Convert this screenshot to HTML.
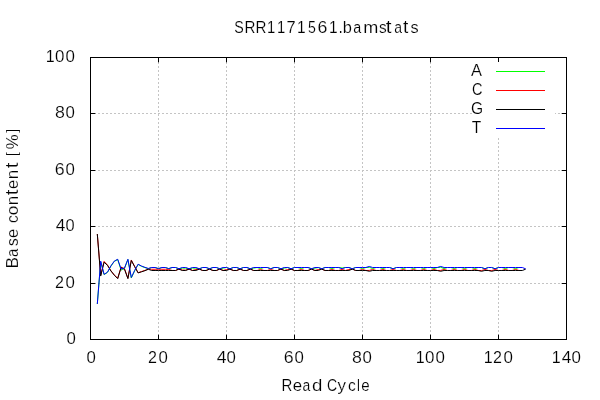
<!DOCTYPE html>
<html><head><meta charset="utf-8"><title>SRR1171561.bamstats</title>
<style>
html,body{margin:0;padding:0;background:#fff;}
body{width:600px;height:400px;overflow:hidden;font-family:"Liberation Sans",sans-serif;}
svg{display:block;}
</style></head><body>
<svg width="600" height="400" viewBox="0 0 600 400">
<rect width="600" height="400" fill="#fff"/>
<g stroke="#c4c4c4" stroke-width="1" stroke-dasharray="2 2" fill="none" shape-rendering="crispEdges">
<line x1="158.5" y1="340" x2="158.5" y2="58"/>
<line x1="226.5" y1="340" x2="226.5" y2="58"/>
<line x1="294.5" y1="340" x2="294.5" y2="58"/>
<line x1="362.5" y1="340" x2="362.5" y2="58"/>
<line x1="430.5" y1="340" x2="430.5" y2="58"/>
<line x1="498.5" y1="340" x2="498.5" y2="58"/>
<line x1="90" y1="283.5" x2="566" y2="283.5"/>
<line x1="90" y1="226.5" x2="566" y2="226.5"/>
<line x1="90" y1="170.5" x2="566" y2="170.5"/>
<line x1="90" y1="113.5" x2="566" y2="113.5"/>
</g>
<g stroke="#000" stroke-width="1" fill="none">
<line x1="90.5" y1="339" x2="90.5" y2="334.7"/>
<line x1="90.5" y1="58" x2="90.5" y2="62.3"/>
<line x1="158.5" y1="339" x2="158.5" y2="334.7"/>
<line x1="158.5" y1="58" x2="158.5" y2="62.3"/>
<line x1="226.5" y1="339" x2="226.5" y2="334.7"/>
<line x1="226.5" y1="58" x2="226.5" y2="62.3"/>
<line x1="294.5" y1="339" x2="294.5" y2="334.7"/>
<line x1="294.5" y1="58" x2="294.5" y2="62.3"/>
<line x1="362.5" y1="339" x2="362.5" y2="334.7"/>
<line x1="362.5" y1="58" x2="362.5" y2="62.3"/>
<line x1="430.5" y1="339" x2="430.5" y2="334.7"/>
<line x1="430.5" y1="58" x2="430.5" y2="62.3"/>
<line x1="498.5" y1="339" x2="498.5" y2="334.7"/>
<line x1="498.5" y1="58" x2="498.5" y2="62.3"/>
<line x1="566.5" y1="339" x2="566.5" y2="334.7"/>
<line x1="566.5" y1="58" x2="566.5" y2="62.3"/>
<line x1="91" y1="339.5" x2="95.3" y2="339.5"/>
<line x1="566" y1="339.5" x2="561.7" y2="339.5"/>
<line x1="91" y1="283.5" x2="95.3" y2="283.5"/>
<line x1="566" y1="283.5" x2="561.7" y2="283.5"/>
<line x1="91" y1="226.5" x2="95.3" y2="226.5"/>
<line x1="566" y1="226.5" x2="561.7" y2="226.5"/>
<line x1="91" y1="170.5" x2="95.3" y2="170.5"/>
<line x1="566" y1="170.5" x2="561.7" y2="170.5"/>
<line x1="91" y1="113.5" x2="95.3" y2="113.5"/>
<line x1="566" y1="113.5" x2="561.7" y2="113.5"/>
<line x1="91" y1="57.5" x2="95.3" y2="57.5"/>
<line x1="566" y1="57.5" x2="561.7" y2="57.5"/>
</g>
<rect x="472" y="62" width="83" height="75" fill="#fff"/>
<g fill="none" stroke-width="1" stroke-linejoin="round" stroke-linecap="butt">
<path d="M496,71.5 L545,71.5" stroke="#00ff00"/>
<path d="M97.30,303.97 L100.70,261.95 L104.10,274.64 L107.50,272.38 L110.90,266.18 L114.30,261.39 L117.70,259.55 L121.10,270.13 L124.50,268.30 L127.90,259.55 L131.30,278.02 L134.70,270.69 L138.10,264.49 L141.50,266.32 L144.90,267.59 L148.30,268.72 L151.70,267.51 L155.10,267.51 L158.50,268.72 L161.90,267.51 L165.30,267.51 L168.70,268.72 L172.10,267.51 L175.50,267.51 L178.90,268.83 L182.30,268.10 L185.70,268.10 L189.10,268.83 L192.50,268.10 L195.90,268.10 L199.30,268.83 L202.70,267.51 L206.10,267.51 L209.50,268.83 L212.90,267.51 L216.30,267.51 L219.70,268.83 L223.10,268.15 L226.50,267.51 L229.90,268.83 L233.30,267.51 L236.70,267.51 L240.10,268.83 L243.50,267.51 L246.90,267.51 L250.30,268.83 L253.70,268.15 L257.10,267.51 L260.50,268.55 L263.90,267.51 L267.30,267.51 L270.70,268.77 L274.10,267.51 L277.50,267.51 L280.90,268.83 L284.30,268.15 L287.70,267.51 L291.10,268.83 L294.50,267.51 L297.90,267.51 L301.30,268.55 L304.70,267.51 L308.10,267.51 L311.50,268.83 L314.90,268.15 L318.30,267.51 L321.70,268.83 L325.10,267.51 L328.50,267.51 L331.90,268.55 L335.30,267.51 L338.70,267.51 L342.10,268.01 L345.50,267.51 L348.90,267.51 L352.30,268.83 L355.70,267.51 M359.10,267.51 L362.50,268.55 L365.90,267.51 L369.30,267.31 L372.70,268.55 L376.10,267.51 M379.50,267.51 L382.90,268.55 L386.30,267.51 M389.70,267.51 L393.10,268.77 L396.50,267.51 M399.90,267.51 L403.30,268.55 L406.70,267.51 M410.10,267.51 L413.50,268.55 L416.90,267.51 M420.30,267.51 L423.70,268.55 L427.10,267.51 M430.50,267.51 L433.90,268.55 L437.30,267.51 L440.70,267.31 L444.10,268.55 L447.50,267.51 M450.90,267.51 L454.30,268.55 L457.70,267.51 M461.10,267.51 L464.50,268.55 L467.90,267.51 M471.30,267.51 L474.70,268.55 L478.10,267.51 M481.50,267.51 L484.90,268.77 L488.30,267.51 M491.70,267.51 L495.10,268.77 L498.50,267.51 M501.90,267.51 L505.30,268.55 L508.70,267.51 M512.10,267.51 L515.50,268.55 L518.90,267.51" stroke="#00ff00"/>
<path d="M496,90.5 L545,90.5" stroke="#ff0000"/>
<path d="M97.30,234.03 L100.70,274.92 L104.10,261.39 L107.50,265.05 L110.90,270.69 L114.30,274.92 L117.70,278.31 L121.10,267.03 L124.50,268.72 L127.90,278.31 L131.30,259.98 L134.70,266.46 L138.10,272.67 L141.50,271.54 L144.90,270.41 L148.30,269.00 L151.70,269.28 L155.10,269.28 L158.50,269.28 L161.90,269.28 L165.30,269.28 L168.70,269.45 L172.10,270.49 L175.50,270.49 L178.90,269.03 L182.30,270.07 L185.70,270.07 L189.10,269.03 L192.50,270.49 L195.90,269.56 L199.30,269.03 L202.70,270.49 L206.10,270.49 L209.50,269.03 L212.90,270.49 L216.30,270.49 L219.70,269.03 L223.10,270.49 L226.50,269.56 L229.90,269.03 L233.30,270.49 L236.70,270.49 L240.10,269.03 L243.50,270.49 L246.90,270.49 L250.30,269.03 L253.70,270.49 L257.10,270.49 L260.50,269.45 L263.90,270.49 L267.30,270.49 L270.70,269.45 L274.10,270.49 L277.50,270.49 L280.90,269.03 L284.30,270.49 L287.70,269.56 L291.10,269.03 L294.50,270.49 L297.90,270.49 L301.30,269.45 L304.70,270.49 L308.10,270.49 L311.50,269.03 L314.90,270.49 L318.30,269.56 L321.70,269.03 L325.10,270.49 L328.50,270.49 L331.90,269.45 L335.30,270.49 L338.70,270.49 L342.10,269.45 L345.50,270.49 L348.90,269.56 L352.30,269.03 L355.70,270.49 M359.10,270.49 L362.50,269.45 L365.90,270.49 L369.30,270.41 L372.70,269.45 L376.10,270.49 M379.50,270.49 L382.90,269.45 L386.30,270.49 M389.70,270.49 L393.10,269.45 L396.50,270.49 M399.90,270.49 L403.30,269.45 L406.70,270.49 M410.10,270.49 L413.50,269.45 L416.90,270.49 M420.30,270.49 L423.70,269.45 L427.10,270.49 M430.50,270.49 L433.90,269.45 L437.30,270.49 L440.70,270.41 L444.10,269.45 L447.50,270.49 M450.90,270.49 L454.30,269.45 L457.70,270.49 M461.10,270.49 L464.50,269.45 L467.90,270.49 M471.30,270.49 L474.70,269.45 L478.10,270.49 L481.50,270.55 L484.90,269.45 L488.30,270.49 L491.70,270.55 L495.10,269.45 L498.50,270.49 M501.90,270.49 L505.30,269.45 L508.70,270.49 M512.10,270.49 L515.50,269.45 L518.90,270.49" stroke="#ff0000"/>
<path d="M496,109.5 L545,109.5" stroke="#000000"/>
<path d="M97.30,234.03 L100.70,276.05 L104.10,262.23 L107.50,265.33 L110.90,270.97 L114.30,275.20 L117.70,278.59 L121.10,267.59 L124.50,269.28 L127.90,278.59 L131.30,260.54 L134.70,266.74 L138.10,272.95 L141.50,271.82 L144.90,270.69 L148.30,269.28 L151.70,270.49 L155.10,270.49 L158.50,270.49 L161.90,270.49 L165.30,270.49 L168.70,270.49 L172.10,270.49 L175.50,270.49 L178.90,269.14 L182.30,270.49 L185.70,270.49 L189.10,269.14 L192.50,270.49 L195.90,270.49 L199.30,269.14 L202.70,270.49 L206.10,270.49 L209.50,269.14 L212.90,270.49 L216.30,270.49 L219.70,269.14 L223.10,270.49 L226.50,270.49 L229.90,269.14 L233.30,270.49 L236.70,270.49 L240.10,269.14 L243.50,270.49 L246.90,270.49 L250.30,269.14 L253.70,270.49 L257.10,270.49 L260.50,270.49 L263.90,270.49 L267.30,270.49 L270.70,270.49 L274.10,270.49 L277.50,270.49 L280.90,269.14 L284.30,270.49 L287.70,270.49 L291.10,269.14 L294.50,270.49 L297.90,270.49 L301.30,270.49 L304.70,270.49 L308.10,270.49 L311.50,269.14 L314.90,270.49 L318.30,270.49 L321.70,269.14 L325.10,270.49 L328.50,270.49 L331.90,270.49 L335.30,270.49 L338.70,270.49 L342.10,270.49 L345.50,270.49 L348.90,270.49 L352.30,269.14 L355.70,270.49 L359.10,270.49 L362.50,270.49 L365.90,270.49 L369.30,271.26 L372.70,270.49 L376.10,270.49 L379.50,270.49 L382.90,270.49 L386.30,270.49 L389.70,270.49 L393.10,270.49 L396.50,270.49 L399.90,270.49 L403.30,270.49 L406.70,270.49 L410.10,270.49 L413.50,270.49 L416.90,270.49 L420.30,270.49 L423.70,270.49 L427.10,270.49 L430.50,270.49 L433.90,270.49 L437.30,270.49 L440.70,271.26 L444.10,270.49 L447.50,270.49 L450.90,270.49 L454.30,270.49 L457.70,270.49 L461.10,270.49 L464.50,270.49 L467.90,270.49 L471.30,270.49 L474.70,270.49 L478.10,270.49 L481.50,271.26 L484.90,270.49 L488.30,270.49 L491.70,271.26 L495.10,270.49 L498.50,270.49 L501.90,270.49 L505.30,270.49 L508.70,270.49 L512.10,270.49 L515.50,270.49 L518.90,270.49 L522.30,270.49 L525.70,269.14" stroke="#000000"/>
<path d="M496,128.5 L545,128.5" stroke="#0000ff"/>
<path d="M97.30,303.97 L100.70,261.10 L104.10,274.36 L107.50,272.10 L110.90,265.90 L114.30,261.10 L117.70,259.27 L121.10,269.00 L124.50,268.01 L127.90,259.27 L131.30,277.46 L134.70,270.41 L138.10,264.21 L141.50,266.04 L144.90,267.31 L148.30,268.44 L151.70,267.51 L155.10,267.51 L158.50,268.58 L161.90,267.51 L165.30,267.51 L168.70,268.58 L172.10,267.51 L175.50,267.51 L178.90,268.72 L182.30,267.51 L185.70,267.51 L189.10,268.72 L192.50,267.51 L195.90,267.51 L199.30,268.72 L202.70,267.51 L206.10,267.51 L209.50,268.72 L212.90,267.51 L216.30,267.51 L219.70,268.72 L223.10,267.51 L226.50,267.51 L229.90,268.72 L233.30,267.51 L236.70,267.51 L240.10,268.72 L243.50,267.51 L246.90,267.51 L250.30,268.72 L253.70,267.51 L257.10,267.51 L260.50,267.51 L263.90,267.51 L267.30,267.51 L270.70,268.72 L274.10,267.51 L277.50,267.51 L280.90,268.72 L284.30,267.51 L287.70,267.51 L291.10,268.72 L294.50,267.51 L297.90,267.51 L301.30,267.51 L304.70,267.51 L308.10,267.51 L311.50,268.72 L314.90,267.51 L318.30,267.51 L321.70,268.72 L325.10,267.51 L328.50,267.51 L331.90,267.51 L335.30,267.51 L338.70,267.51 L342.10,268.72 L345.50,267.51 L348.90,267.51 L352.30,268.72 L355.70,267.51 L359.10,267.51 L362.50,267.51 L365.90,267.51 L369.30,266.46 L372.70,267.51 L376.10,267.51 L379.50,267.51 L382.90,267.51 L386.30,267.51 L389.70,267.51 L393.10,268.72 L396.50,267.51 L399.90,267.51 L403.30,267.51 L406.70,267.51 L410.10,267.51 L413.50,267.51 L416.90,267.51 L420.30,267.51 L423.70,267.51 L427.10,267.51 L430.50,267.51 L433.90,267.51 L437.30,267.51 L440.70,266.46 L444.10,267.51 L447.50,267.51 L450.90,267.51 L454.30,267.51 L457.70,267.51 L461.10,267.51 L464.50,267.51 L467.90,267.51 L471.30,267.51 L474.70,267.51 L478.10,267.51 L481.50,267.51 L484.90,268.72 L488.30,267.51 L491.70,267.51 L495.10,268.72 L498.50,267.51 L501.90,267.51 L505.30,267.51 L508.70,267.51 L512.10,267.51 L515.50,267.51 L518.90,267.51 L522.30,267.51 L525.70,268.86" stroke="#0000ff"/>
</g>
<rect x="90.5" y="57.5" width="476" height="282" fill="none" stroke="#000" stroke-width="1" shape-rendering="crispEdges"/>
<g font-family="'Liberation Sans', sans-serif" font-size="16.2" fill="#000" stroke="#fff" stroke-width="0.16" paint-order="fill stroke" style="opacity:0.999">
<text transform="translate(234.20,33.00) scale(0.879,1.063)">S</text>
<text transform="translate(244.41,33.00) scale(0.936,1.060)">R</text>
<text transform="translate(255.41,33.00) scale(0.936,1.060)">R</text>
<text transform="translate(267.12,33.00) scale(0.916,1.060)">1</text>
<text transform="translate(277.12,33.00) scale(0.916,1.060)">1</text>
<text transform="translate(286.50,33.00) scale(1.018,1.060)">7</text>
<text transform="translate(297.07,33.00) scale(0.959,1.060)">1</text>
<text transform="translate(308.08,33.00) scale(0.872,1.060)">5</text>
<text transform="translate(317.45,33.00) scale(1.097,1.063)">6</text>
<text transform="translate(328.97,33.00) scale(0.959,1.060)">1</text>
<text transform="translate(338.61,33.00) scale(0.972,1.160)">.</text>
<text transform="translate(342.79,33.00) scale(1.016,1.049)">b</text>
<text transform="translate(353.14,33.00) scale(0.889,1.041)">a</text>
<text transform="translate(363.15,33.00) scale(1.119,1.041)">m</text>
<text transform="translate(378.92,33.00) scale(0.949,1.044)">s</text>
<text transform="translate(385.74,33.00) scale(1.281,1.086)">t</text>
<text transform="translate(394.15,33.00) scale(0.865,1.041)">a</text>
<text transform="translate(402.96,33.00) scale(1.184,1.086)">t</text>
<text transform="translate(410.50,33.00) scale(1.005,1.044)">s</text>
<text transform="translate(281.62,391.00) scale(0.925,1.060)">R</text>
<text transform="translate(292.63,391.00) scale(1.039,1.041)">e</text>
<text transform="translate(302.55,391.00) scale(0.865,1.041)">a</text>
<text transform="translate(311.97,391.00) scale(1.153,1.049)">d</text>
<text transform="translate(327.04,391.00) scale(0.867,1.063)">C</text>
<text transform="translate(337.61,391.00) scale(1.046,1.035)">y</text>
<text transform="translate(347.99,391.00) scale(0.959,1.041)">c</text>
<text transform="translate(357.11,391.00) scale(0.800,1.049)">l</text>
<text transform="translate(361.31,391.00) scale(0.934,1.041)">e</text>
<text transform="translate(66.39,344.00) scale(1.040,1.063)">0</text>
<text transform="translate(54.94,288.00) scale(0.996,1.063)">2</text>
<text transform="translate(65.39,288.00) scale(1.040,1.063)">0</text>
<text transform="translate(55.75,231.00) scale(1.066,1.060)">4</text>
<text transform="translate(65.61,231.00) scale(1.014,1.063)">0</text>
<text transform="translate(54.85,175.00) scale(1.097,1.063)">6</text>
<text transform="translate(65.39,175.00) scale(1.040,1.063)">0</text>
<text transform="translate(54.98,118.00) scale(1.098,1.063)">8</text>
<text transform="translate(65.39,118.00) scale(1.040,1.063)">0</text>
<text transform="translate(45.67,62.00) scale(0.995,1.060)">1</text>
<text transform="translate(55.09,62.00) scale(1.046,1.063)">0</text>
<text transform="translate(65.49,62.00) scale(1.046,1.063)">0</text>
<text transform="translate(86.39,363.00) scale(1.040,1.063)">0</text>
<text transform="translate(147.94,363.00) scale(0.996,1.063)">2</text>
<text transform="translate(158.39,363.00) scale(1.040,1.063)">0</text>
<text transform="translate(216.75,363.00) scale(1.084,1.060)">4</text>
<text transform="translate(226.39,363.00) scale(1.040,1.063)">0</text>
<text transform="translate(283.85,363.00) scale(1.097,1.063)">6</text>
<text transform="translate(294.39,363.00) scale(1.040,1.063)">0</text>
<text transform="translate(351.98,363.00) scale(1.098,1.063)">8</text>
<text transform="translate(362.39,363.00) scale(1.040,1.063)">0</text>
<text transform="translate(415.67,363.00) scale(0.995,1.060)">1</text>
<text transform="translate(425.09,363.00) scale(1.046,1.063)">0</text>
<text transform="translate(435.49,363.00) scale(1.046,1.063)">0</text>
<text transform="translate(483.67,363.00) scale(0.995,1.060)">1</text>
<text transform="translate(492.94,363.00) scale(0.996,1.063)">2</text>
<text transform="translate(503.49,363.00) scale(1.046,1.063)">0</text>
<text transform="translate(551.67,363.00) scale(0.995,1.060)">1</text>
<text transform="translate(561.75,363.00) scale(1.066,1.060)">4</text>
<text transform="translate(571.49,363.00) scale(1.046,1.063)">0</text>
<text transform="translate(18.35,268.47) rotate(-90) scale(1.067,1.060)">B</text>
<text transform="translate(18.35,256.89) rotate(-90) scale(0.925,1.041)">a</text>
<text transform="translate(18.35,246.08) rotate(-90) scale(0.949,1.044)">s</text>
<text transform="translate(18.35,238.05) rotate(-90) scale(1.013,1.041)">e</text>
<text transform="translate(18.35,223.01) rotate(-90) scale(0.959,1.041)">c</text>
<text transform="translate(18.35,215.18) rotate(-90) scale(1.072,1.041)">o</text>
<text transform="translate(18.35,205.18) rotate(-90) scale(1.046,1.041)">n</text>
<text transform="translate(18.35,195.36) rotate(-90) scale(1.257,1.086)">t</text>
<text transform="translate(18.35,189.05) rotate(-90) scale(1.013,1.041)">e</text>
<text transform="translate(18.35,179.28) rotate(-90) scale(1.046,1.041)">n</text>
<text transform="translate(18.35,168.36) rotate(-90) scale(1.257,1.086)">t</text>
<text transform="translate(17.27,155.92) rotate(-90) scale(0.839,0.957)">[</text>
<text transform="translate(18.35,149.35) rotate(-90) scale(1.034,1.070)">%</text>
<text transform="translate(17.27,132.66) rotate(-90) scale(0.839,0.957)">]</text>
<text transform="translate(471.02,76.00) scale(1.015,1.060)">A</text>
<text transform="translate(472.06,95.00) scale(0.897,1.063)">C</text>
<text transform="translate(471.11,114.00) scale(0.964,1.063)">G</text>
<text transform="translate(471.70,133.00) scale(0.961,1.060)">T</text>
</g>
</svg>
</body></html>
